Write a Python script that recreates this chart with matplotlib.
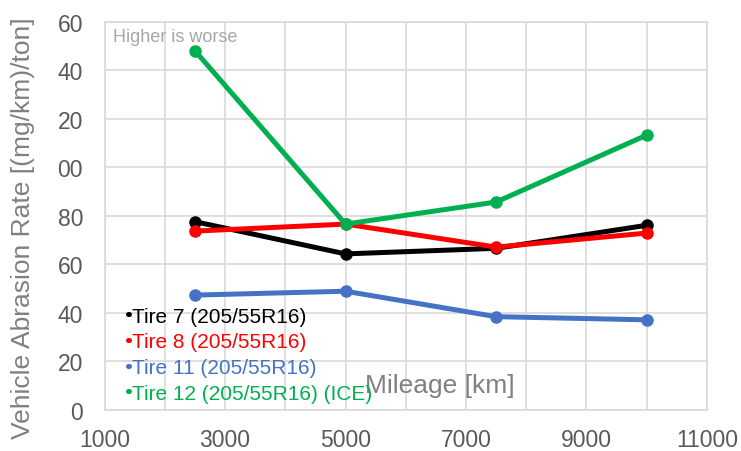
import numpy as np
import matplotlib.pyplot as plt

plt.rcParams['font.family'] = ['Liberation Sans', 'DejaVu Sans']

# data
mileage = [2500, 5000, 7500, 10000]
tire7 = [77.5, 64.2, 66.5, 76.0]
tire8 = [73.6, 76.5, 67.0, 72.8]
tire11 = [47.2, 48.8, 38.3, 37.0]
tire12 = [148.0, 76.5, 85.6, 113.2]

names = ['Tire 7 (205/55R16)', 'Tire 8 (205/55R16)', 'Tire 11 (205/55R16)',
         'Tire 12 (205/55R16) (ICE)']
colors = ['#000000', '#ff0000', '#4472c4', '#00b050']

xticks = [1000, 3000, 5000, 7000, 9000, 11000]
yticks = [0, 20, 40, 60, 80, 100, 120, 140, 160]
# leading digit is cut off in the original
ytick_labels = ['0', '20', '40', '60', '80', '00', '20', '40', '60']

fig = plt.figure(figsize=(7.41, 4.52), dpi=100)
ax = fig.add_axes([0.1412, 0.0918, 0.8128, 0.858])

series = [tire7, tire8, tire11, tire12]
for vals, name, c in zip(series, names, colors):
    ax.plot(mileage, vals, '-o', color=c, lw=3.6, markersize=8, label=name,
            solid_capstyle='round')

ax.set_xlim(1000, 11000)
ax.set_ylim(0, 160)
ax.set_xticks(xticks)
ax.set_xticks(np.arange(1000, 11001, 1000), minor=True)
ax.set_yticks(yticks)
ax.set_yticklabels(ytick_labels)
ax.grid(True, which='both', color='#d9d9d9', lw=1.2)
ax.set_axisbelow(True)
ax.tick_params(which='both', length=0, labelsize=16.5, labelcolor='#595959')
ax.tick_params(axis='y', pad=15.5)
ax.tick_params(axis='x', pad=13)
for s in ax.spines.values():
    s.set_color('#d9d9d9')
    s.set_linewidth(1.2)

ax.set_ylabel('Vehicle Abrasion Rate [(mg/km)/ton]', fontsize=19, color='#808080')
ax.yaxis.set_label_coords(-0.115, 0.47)

ax.text(0.014, 0.985, 'Higher is worse', transform=ax.transAxes, fontsize=13,
        color='#a6a6a6', va='top', ha='left')
ax.text(0.557, 0.063, 'Mileage [km]', transform=ax.transAxes, fontsize=19,
        color='#808080', ha='center', va='center')

leg = ax.legend(loc='lower left', bbox_to_anchor=(0.02, -0.012), frameon=False,
                fontsize=15, handlelength=0.05, handletextpad=0.15,
                labelspacing=0.32, markerscale=0.01, labelcolor='linecolor',
                borderaxespad=0.15)

fig.savefig('out.png', dpi=100)
